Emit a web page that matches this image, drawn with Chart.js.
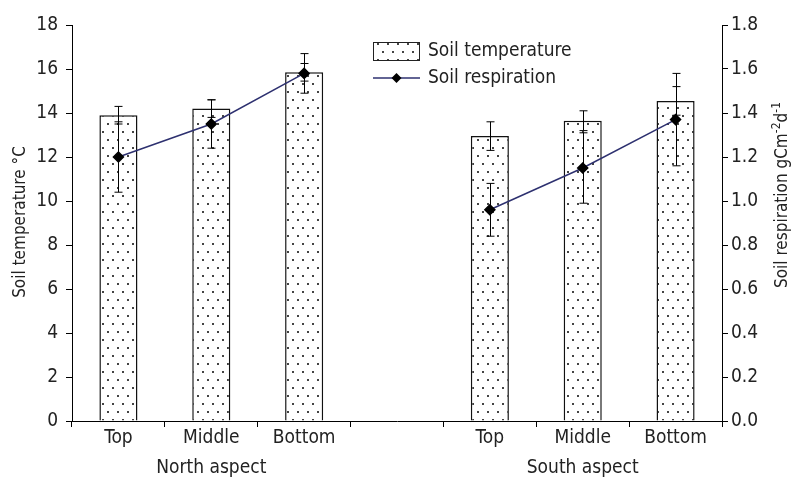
<!DOCTYPE html>
<html>
<head>
<meta charset="utf-8">
<script src="https://cdn.jsdelivr.net/npm/chart.js@4.4.1/dist/chart.umd.min.js"></script>
<style>
html, body { margin: 0; padding: 0; background: #fff; }
</style>
</head>
<body>
<canvas id="chart" width="794" height="482"></canvas>
<script>
// categories along the x axis (empty slot separates the two aspects)
const categories = ['Top', 'Middle', 'Bottom', '', 'Top', 'Middle', 'Bottom'];
const aspects = ['', 'North aspect', '', '', '', 'South aspect', ''];

// soil temperature, deg C (bars) and its error
const tempValues = [13.9, 14.2, 15.85, null, 12.95, 13.65, 14.55];
const tempErrors = [0.4, 0.4, 0.4, null, 0.65, 0.45, 0.65];

// soil respiration, gC m-2 d-1 (line) and its error
const respValues = [1.2, 1.35, 1.58, null, 0.96, 1.15, 1.37];
const respErrors = [0.16, 0.11, 0.09, null, 0.12, 0.16, 0.21];

const FONT = '"DejaVu Sans Condensed", "Liberation Sans Narrow", Roboto, sans-serif';
const textColor = '#222';

const canvas = document.getElementById('chart');
const ctx = canvas.getContext('2d');

// dotted fill for the bars
function dotPattern() {
    const c = document.createElement('canvas');
    c.width = 10;
    c.height = 16;
    const g = c.getContext('2d');
    g.fillStyle = '#fff';
    g.fillRect(0, 0, 10, 16);
    g.fillStyle = '#444';
    g.fillRect(2, 3, 2, 2);
    g.fillRect(7, 11, 2, 2);
    return ctx.createPattern(c, 'repeat');
}
const pattern = dotPattern();

function drawErrors(chart, values, errors, yScale) {
    const c = chart.ctx;
    const x = chart.scales.x;
    c.save();
    c.strokeStyle = '#000';
    c.lineWidth = 1;
    values.forEach((v, i) => {
        if (v === null) return;
        const px = Math.round(x.getPixelForValue(i)) + 0.5;
        const top = yScale.getPixelForValue(v + errors[i]);
        const bot = yScale.getPixelForValue(v - errors[i]);
        c.beginPath();
        c.moveTo(px, top);
        c.lineTo(px, bot);
        c.moveTo(px - 4, top);
        c.lineTo(px + 4, top);
        c.moveTo(px - 4, bot);
        c.lineTo(px + 4, bot);
        c.stroke();
    });
    c.restore();
}

const errorBars = {
    id: 'errorBars',
    afterDatasetDraw(chart, args) {
        if (args.index === 0) drawErrors(chart, tempValues, tempErrors, chart.scales.y);
        if (args.index === 1) drawErrors(chart, respValues, respErrors, chart.scales.y1);
    }
};

// axis titles and legend
const decorations = {
    id: 'decorations',
    afterDraw(chart) {
        const c = chart.ctx;
        const area = chart.chartArea;
        c.save();
        c.fillStyle = textColor;
        c.textBaseline = 'middle';

        // left title
        c.save();
        c.translate(21, 222);
        c.rotate(-Math.PI / 2);
        c.textAlign = 'center';
        c.font = '17px ' + FONT;
        c.fillText('Soil temperature °C', 0, 0);
        c.restore();

        // right title with superscripts
        c.save();
        c.translate(783, 195);
        c.rotate(-Math.PI / 2);
        const parts = [['Soil respiration gCm', 17, 0], ['-2', 12, -6], ['d', 17, 0], ['-1', 12, -6]];
        let total = 0;
        parts.forEach(p => { c.font = p[1] + 'px ' + FONT; total += c.measureText(p[0]).width; });
        let tx = -total / 2;
        c.textAlign = 'left';
        parts.forEach(p => {
            c.font = p[1] + 'px ' + FONT;
            c.fillText(p[0], tx, p[2]);
            tx += c.measureText(p[0]).width;
        });
        c.restore();

        // legend
        const lx = area.left + 301;
        const ly = 42;
        c.fillStyle = pattern;
        c.fillRect(lx, ly, 47, 19);
        c.strokeStyle = '#222';
        c.lineWidth = 1;
        c.strokeRect(lx + 0.5, ly + 0.5, 46, 18);
        c.strokeStyle = '#2e3170';
        c.lineWidth = 1.5;
        c.beginPath();
        c.moveTo(lx, ly + 36);
        c.lineTo(lx + 47, ly + 36);
        c.stroke();
        c.fillStyle = '#000';
        c.beginPath();
        c.moveTo(lx + 23.5, ly + 31);
        c.lineTo(lx + 28.5, ly + 36);
        c.lineTo(lx + 23.5, ly + 41);
        c.lineTo(lx + 18.5, ly + 36);
        c.closePath();
        c.fill();
        c.fillStyle = textColor;
        c.font = '19px ' + FONT;
        c.textAlign = 'left';
        c.fillText(chart.data.datasets[0].label, lx + 55, ly + 9);
        c.fillText(chart.data.datasets[1].label, lx + 55, ly + 36);
        c.restore();
    }
};

const tickFont = {family: FONT, size: 19};

new Chart(ctx, {
    data: {
        labels: categories,
        datasets: [{
            type: 'bar',
            label: 'Soil temperature',
            data: tempValues,
            yAxisID: 'y',
            backgroundColor: pattern,
            borderColor: '#111',
            borderWidth: 1.5,
            barPercentage: 0.41,
            categoryPercentage: 1.0,
            order: 2
        }, {
            type: 'line',
            label: 'Soil respiration',
            data: respValues,
            yAxisID: 'y1',
            borderColor: '#2e3170',
            borderWidth: 1.5,
            pointStyle: 'rectRot',
            pointRadius: 5,
            pointBackgroundColor: '#000',
            pointBorderColor: '#000',
            spanGaps: false,
            tension: 0,
            order: 1
        }]
    },
    options: {
        responsive: false,
        animation: false,
        layout: {padding: {top: 25, left: 0, right: 0, bottom: 0}},
        plugins: {
            legend: {display: false},
            tooltip: {enabled: false}
        },
        scales: {
            x: {
                type: 'category',
                position: 'bottom',
                offset: true,
                grid: {drawOnChartArea: false, offset: true, tickLength: 6, color: '#000'},
                border: {color: '#000'},
                ticks: {color: textColor, font: tickFont, padding: 0, autoSkip: false, maxRotation: 0},
                afterFit: s => { s.height = 35; }
            },
            x2: {
                type: 'category',
                position: 'bottom',
                labels: aspects,
                offset: true,
                grid: {display: false, drawTicks: false},
                border: {display: false},
                ticks: {color: textColor, font: tickFont, padding: 1, autoSkip: false, maxRotation: 0},
                afterFit: s => { s.height = 26; }
            },
            y: {
                position: 'left',
                min: 0,
                max: 18,
                grid: {drawOnChartArea: false, tickLength: 6, color: '#000'},
                border: {color: '#000'},
                ticks: {stepSize: 2, color: textColor, font: tickFont, padding: 8},
                afterFit: s => { s.width = 72; }
            },
            y1: {
                position: 'right',
                min: 0,
                max: 1.8,
                grid: {drawOnChartArea: false, tickLength: 6, color: '#000'},
                border: {color: '#000'},
                ticks: {stepSize: 0.2, color: textColor, font: tickFont, padding: 3,
                    callback: v => Number(v).toFixed(1)},
                afterFit: s => { s.width = 72; }
            }
        }
    },
    plugins: [errorBars, decorations]
});
</script>
</body>
</html>
